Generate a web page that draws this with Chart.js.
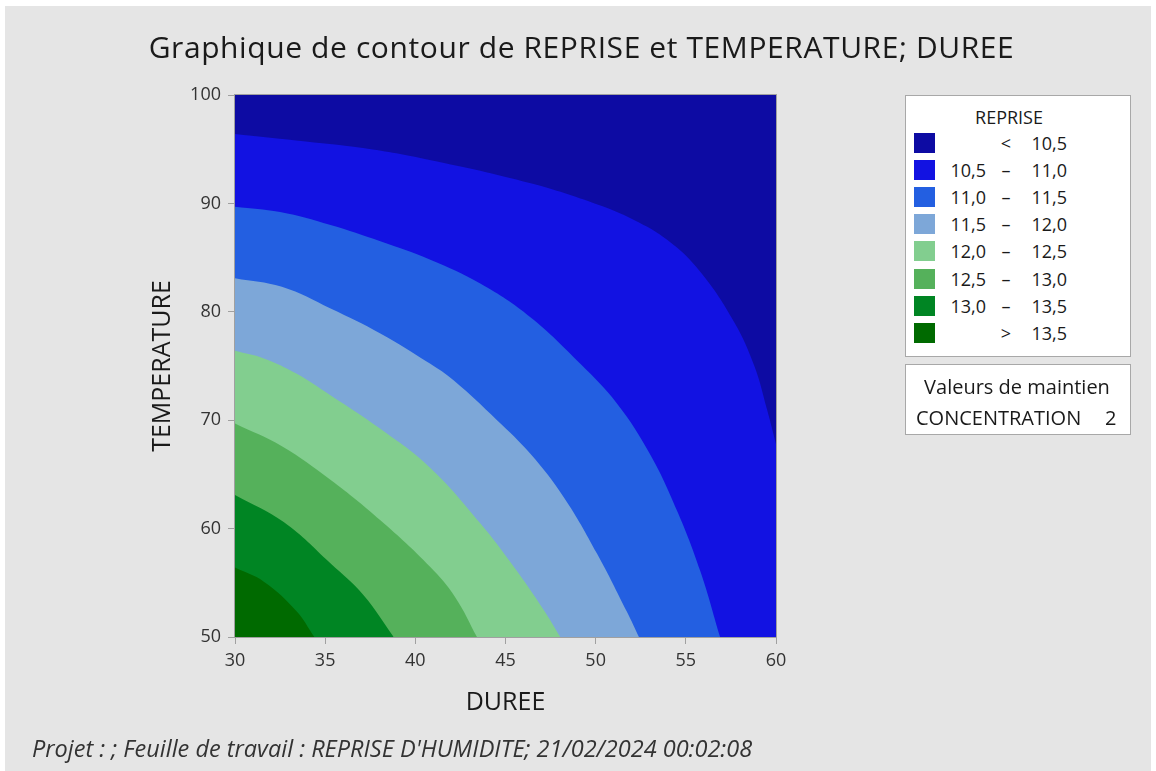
<!DOCTYPE html>
<html>
<head>
<meta charset="utf-8">
<script src="https://cdn.jsdelivr.net/npm/chart.js@4.4.1/dist/chart.umd.min.js"></script>
<style>
  body { margin: 0; background: #ffffff; font-family: "Open Sans", sans-serif; }
  #panel { position: absolute; left: 5px; top: 6px; width: 1146px; height: 765px; background: #e5e5e5; }
  #wrap { position: absolute; left: 0; top: 0; width: 1156px; height: 771px; }
  .txt { position: absolute; white-space: nowrap; color: #1a1a1a; }
  .box { position: absolute; background: #ffffff; border: 1px solid #a8a8a8; box-sizing: border-box; }
</style>
</head>
<body>
<div id="panel"></div>
<div id="wrap"><canvas id="myChart" width="1156" height="771"></canvas></div>
<div class="txt" id="title" style="left:0;width:1163px;top:28px;text-align:center;font-size:30px;line-height:38px;letter-spacing:0.6px;">Graphique de contour de REPRISE et TEMPERATURE; DUREE</div>
<div class="box" style="left:905px;top:95px;width:226px;height:262px;"></div>
<div class="box" style="left:905px;top:364px;width:226px;height:71px;"></div>
<div id="legend"></div>
<div class="txt" style="left:905px;width:224px;top:374px;text-align:center;font-size:20px;line-height:26px;">Valeurs de maintien</div>
<div class="txt" style="left:916px;top:405px;font-size:20px;line-height:26px;">CONCENTRATION</div>
<div class="txt" style="left:1105px;top:405px;font-size:20px;line-height:26px;">2</div>
<div class="txt" style="left:32px;top:733px;font-size:23.5px;line-height:30px;font-style:italic;color:#333;">Projet : ; Feuille de travail : REPRISE D'HUMIDITE; 21/02/2024 00:02:08</div>
<script>
// axes
const xTicks = [30, 35, 40, 45, 50, 55, 60];
const yTicks = [50, 60, 70, 80, 90, 100];

// contour boundaries (DUREE, TEMPERATURE)
const top100 = [{x: 30, y: 100}, {x: 60, y: 100}];
const c105 = [{x: 30, y: 96.4}, {x: 33.4, y: 95.8}, {x: 37.1, y: 95.1}, {x: 40.8, y: 94.0}, {x: 46.4, y: 91.85},
  {x: 50.1, y: 89.9}, {x: 52.1, y: 88.5}, {x: 54.0, y: 86.6}, {x: 55.8, y: 83.7}, {x: 57.7, y: 79.0},
  {x: 58.8, y: 75.0}, {x: 59.5, y: 71.0}, {x: 60, y: 67.8}];
const c110 = [{x: 30, y: 89.7}, {x: 32.5, y: 89.2}, {x: 35.3, y: 88.0}, {x: 38.06, y: 86.5}, {x: 40.83, y: 84.8},
  {x: 43.6, y: 82.6}, {x: 46.38, y: 79.5}, {x: 49.15, y: 75.2}, {x: 51.2, y: 71.5}, {x: 53.0, y: 66.9},
  {x: 54.5, y: 61.7}, {x: 55.8, y: 56.1}, {x: 56.9, y: 50}];
const c115 = [{x: 30, y: 83.1}, {x: 32.6, y: 82.3}, {x: 35.3, y: 80.3}, {x: 38.06, y: 78.0}, {x: 40.83, y: 75.2},
  {x: 42.12, y: 73.68}, {x: 44.53, y: 70.0}, {x: 46.38, y: 66.9}, {x: 48.23, y: 62.9}, {x: 50.08, y: 57.68},
  {x: 51.74, y: 52.3}, {x: 52.4, y: 50}];
const c120 = [{x: 30, y: 76.4}, {x: 31.6, y: 75.7}, {x: 33.4, y: 74.3}, {x: 35.29, y: 72.3}, {x: 38.06, y: 69.2},
  {x: 40.83, y: 65.6}, {x: 43.6, y: 60.5}, {x: 45.45, y: 56.5}, {x: 47.12, y: 52.5}, {x: 48.04, y: 50}];
const c125 = [{x: 30, y: 69.7}, {x: 32.6, y: 67.6}, {x: 35.29, y: 64.5}, {x: 38.06, y: 60.76}, {x: 40.83, y: 56.45},
  {x: 42.2, y: 53.7}, {x: 43.42, y: 50}];
const c130 = [{x: 30, y: 63.1}, {x: 32.7, y: 60.6}, {x: 35.29, y: 56.8}, {x: 37.13, y: 53.85}, {x: 38.8, y: 50}];
const c135 = [{x: 30, y: 56.4}, {x: 31.6, y: 55.1}, {x: 33.4, y: 52.4}, {x: 34.4, y: 50}];

// legend classes
const levelLow = ['', '10,5', '11,0', '11,5', '12,0', '12,5', '13,0', ''];
const levelSep = ['<', '\u2013', '\u2013', '\u2013', '\u2013', '\u2013', '\u2013', '>'];
const levelHigh = ['10,5', '11,0', '11,5', '12,0', '12,5', '13,0', '13,5', '13,5'];
const bandColors = ['#0d0ba3', '#1212e2', '#235fe1', '#7da7d8', '#82ce8f', '#55b15b', '#008523', '#006a00'];

// legend (html)
let leg = '<div class="txt" style="left:905px;width:208px;top:105px;text-align:center;font-size:18px;line-height:24px;">REPRISE</div>';
for (let i = 0; i < bandColors.length; i++) {
  const cy = 143 + i * 27.1;
  leg += '<div style="position:absolute;left:914px;top:' + (cy - 10) + 'px;width:21px;height:20px;background:' + bandColors[i] + ';"></div>';
  leg += '<div class="txt" style="left:930px;width:56px;text-align:right;top:' + (cy - 13) + 'px;font-size:18px;line-height:26px;">' + levelLow[i] + '</div>';
  leg += '<div class="txt" style="left:991px;width:30px;text-align:center;top:' + (cy - 13) + 'px;font-size:18px;line-height:26px;">' + levelSep[i] + '</div>';
  leg += '<div class="txt" style="left:1010px;width:57px;text-align:right;top:' + (cy - 13) + 'px;font-size:18px;line-height:26px;">' + levelHigh[i] + '</div>';
}
document.getElementById('legend').innerHTML = leg;

function band(data, color) {
  return {
    data: data,
    fill: 'start',
    backgroundColor: color,
    borderWidth: 0,
    borderColor: color,
    pointRadius: 0,
    tension: 0.4
  };
}

const frame = {
  id: 'frame',
  afterDatasetsDraw(chart) {
    const a = chart.chartArea;
    const c = chart.ctx;
    c.save();
    c.strokeStyle = '#a0a0a0';
    c.lineWidth = 1;
    c.strokeRect(a.left - 0.5, a.top - 0.5, a.right - a.left + 1, a.bottom - a.top + 1);
    c.restore();
  }
};

const ctx = document.getElementById('myChart').getContext('2d');
const myChart = new Chart(ctx, {
  type: 'line',
  data: {
    // first dataset is drawn on top
    datasets: [
      band(c135, bandColors[7]),
      band(c130, bandColors[6]),
      band(c125, bandColors[5]),
      band(c120, bandColors[4]),
      band(c115, bandColors[3]),
      band(c110, bandColors[2]),
      band(c105, bandColors[1]),
      band(top100, bandColors[0])
    ]
  },
  options: {
    responsive: false,
    animation: false,
    devicePixelRatio: 1,
    layout: { padding: { left: 0, right: 380, top: 95, bottom: 0 } },
    plugins: { legend: { display: false }, tooltip: { enabled: false } },
    scales: {
      x: {
        type: 'linear',
        min: 30,
        max: 60,
        afterBuildTicks: function (s) { s.ticks = xTicks.map(v => ({value: v})); },
        afterFit: function (s) { s.height = 134; },
        grid: { drawOnChartArea: false, drawTicks: true, tickLength: 7, color: '#a0a0a0' },
        border: { display: true, color: '#a0a0a0' },
        ticks: { color: '#333', font: { family: 'Open Sans', size: 18 }, padding: 6 },
        title: { display: true, text: 'DUREE', color: '#1a1a1a', font: { family: 'Open Sans', size: 25 }, padding: { top: 0, bottom: 53 } }
      },
      y: {
        min: 50,
        max: 100,
        afterBuildTicks: function (s) { s.ticks = yTicks.map(v => ({value: v})); },
        afterFit: function (s) { s.width = 235; },
        grid: { drawOnChartArea: false, drawTicks: true, tickLength: 7, color: '#a0a0a0' },
        border: { display: true, color: '#a0a0a0' },
        ticks: { color: '#333', font: { family: 'Open Sans', size: 18 }, padding: 7 },
        title: { display: true, text: 'TEMPERATURE', color: '#1a1a1a', font: { family: 'Open Sans', size: 25 }, padding: { top: 148, bottom: 0 } }
      }
    }
  },
  plugins: [frame]
});
</script>
</body>
</html>
